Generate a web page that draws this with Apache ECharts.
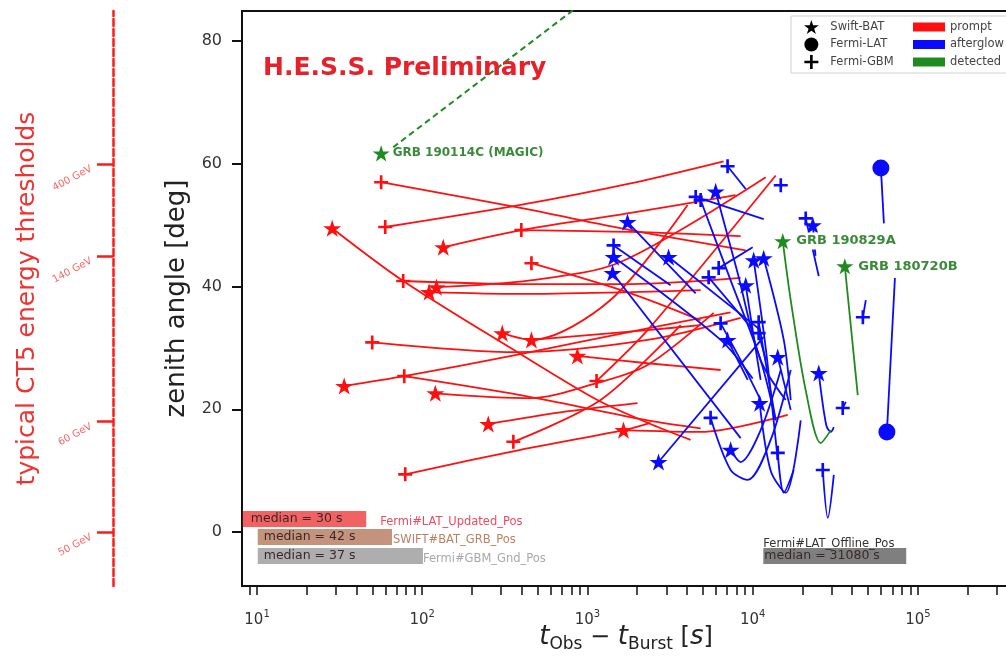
<!DOCTYPE html>
<html><head><meta charset="utf-8">
<script src="https://cdn.jsdelivr.net/npm/echarts@6/dist/echarts.min.js"></script>
<style>html,body{margin:0;padding:0;background:#fff}#c{width:1006px;height:657px}</style>
</head><body><div id="c"></div>
<script>
// ---------- data: each track = [[t_obs - t_burst (s), zenith (deg)], ...]; first point carries the detector marker
const promptGBM = [
  [[56.4,57.0],[393,52.8],[1823,49.2],[9077,45.9]],
  [[59.7,49.7],[393,53.3],[1823,56.8],[6668,60.4]],
  [[76.7,40.9],[393,40.4],[1823,40.4],[8453,41.4]],
  [[398,49.2],[1823,48.9],[8453,48.2]],
  [[458,43.8],[1823,38.9],[4842,34.5]],
  [[49.8,30.9],[377,29.3],[2311,31.3],[8453,34.9]],
  [[1135,24.6],[2311,32.9],[13780,58.1]],
  [[77.8,25.4],[393,22.3],[2311,18.2],[4842,16.9]],
  [[356,14.7],[1200,21.5],[3664,33.7]],
  [[78.9,9.4],[393,13.4],[1652,16.6],[2409,17.8]]
];
const promptBAT = [
  [[28.5,49.5],[76.7,40.9],[377,29.3],[1150,21.5],[2311,17.8],[4207,15.0]],
  [[110,39.1],[393,38.8],[1823,39.1],[4842,39.4]],
  [[122,39.9],[451,41.0],[1585,44.0],[11990,57.8]],
  [[134,46.4],[398,49.2],[1823,52.0],[7880,54.9]],
  [[305,32.4],[458,31.3],[1378,37.8],[4036,53.3]],
  [[458,31.3],[2311,32.9],[4842,33.7]],
  [[869,28.7],[2311,27.5],[6397,26.4]],
  [[33.7,23.8],[77.8,25.4],[393,29.0],[2311,33.2],[7355,35.8]],
  [[120,22.6],[451,21.8],[1150,24.3],[2311,27.2],[5803,35.7]],
  [[251,17.6],[686,19.5],[2009,21.0]],
  [[1652,16.6],[4842,16.3],[16300,19.1]]
];
const afterglowGBM = [
  [[7047,59.6],[9077,55.9]],
  [[14790,56.5]],
  [[4519,54.6],[11660,51.0]],
  [[4842,54.1],[7355,41.0],[11170,28.0],[13780,18.2]],
  [[1439,46.7],[3186,40.2]],
  [[6227,43.0],[10000,46.4]],
  [[5414,41.5],[10000,33.0]],
  [[20940,51.1],[25120,41.7]],
  [[6397,34.0],[8453,28.0],[11170,21.5]],
  [[10870,34.2],[13780,18.2]],
  [[10870,32.4],[12000,28.0]],
  [[35080,20.2],[36640,21.2]],
  [[5562,18.6],[7355,10.1],[9333,8.5],[12850,15.0],[16990,26.4]],
  [[14180,12.9],[15420,6.4],[17720,10.1]],
  [[26560,10.1],[28500,2.3],[30980,9.3]],
  [[46450,35.0],[48400,37.8]]
];
const afterglowBAT = [
  [[5970,55.5],[8110,42.2],[11170,28.0],[15850,21.5]],
  [[1747,50.5],[4519,38.9]],
  [[1439,44.8],[6397,31.3],[10000,25.0]],
  [[1419,42.2],[8453,15.3]],
  [[3097,44.8],[11170,32.9]],
  [[9077,40.2],[10000,32.9],[11170,24.8]],
  [[10140,44.3],[11990,30.0],[13780,15.0],[14180,11.7]],
  [[11660,44.6],[15420,31.3],[16990,21.5]],
  [[23120,50.0],[24000,45.0]],
  [[7047,31.3],[9333,24.8]],
  [[14180,28.5],[16990,19.9]],
  [[25120,25.9],[27890,17.4],[29720,16.3],[30980,17.1]],
  [[11020,21.0],[12850,10.0],[15850,6.4],[19530,18.2]],
  [[7355,13.4],[8453,11.4],[11170,16.6],[14790,26.4]],
  [[2692,11.4],[11660,31.8]]
];
const afterglowLAT = [
  [[59700,59.3],[62270,50.3]],
  [[64930,16.3],[72600,41.4]]
];
const detectedBAT = [
  [[15210,47.4],[16990,37.8],[20940,23.1],[25830,14.5],[29720,16.6]],
  [[36120,43.3],[43260,22.3]],
  [[56.4,61.7]]
];
const detectedNames = ['GRB 190829A','GRB 180720B','GRB 190114C (MAGIC)'];
const magicExtrapolation = [[66.7,62.7],[789,84.7],[1200,88.4]];

// median latency bars: [start s, end s, top deg, bottom deg]
const medianStart  = [8.2, 10.1, 10.1, 11600];
const medianEnd    = [45.8, 65.6, 101, 85000];
const medianTop    = [3.42, 0.49, -2.61, -2.61];
const medianBottom = [0.81, -2.12, -5.21, -5.21];
const medianText   = ['median = 30 s','median = 42 s','median = 37 s','median = 31080 s'];
const medianStream = ['Fermi#LAT_Updated_Pos','SWIFT#BAT_GRB_Pos','Fermi#GBM_Gnd_Pos','Fermi#LAT_Offline_Pos'];

// axes
const yMin = -8.8, yMax = 84.9;
const xMin = 8.11, xMax = 3.61e5;
const yTicks = [0,20,40,60,80];
const xTickValues = [10,100,1000,10000,100000];
const xTickExps = ['1','2','3','4','5'];
const xAllTicks = [8,9,10,20,30,40,50,60,70,80,90,100,200,300,400,500,600,700,800,900,1000,
  2000,3000,4000,5000,6000,7000,8000,9000,10000,20000,30000,40000,50000,60000,70000,80000,90000,
  100000,200000,300000];
const energyTickDeg = [60,45,18,0];
const energyTickLabels = ['400 GeV','140 GeV','60 GeV','50 GeV'];

// ---------- styles
const STAR = 'path://M0,-100L22.45,-30.9L95.11,-30.9L36.33,11.8L58.78,80.9L0,38.2L-58.78,80.9L-36.33,11.8L-95.11,-30.9L-22.45,-30.9Z';
const PLUS = 'path://M-1.9,-10L1.9,-10L1.9,-1.9L10,-1.9L10,1.9L1.9,1.9L1.9,10L-1.9,10L-1.9,1.9L-10,1.9L-10,-1.9L-1.9,-1.9Z';
const RED = '#ff1010', BLUE = '#0a0aff', GREEN = '#1f8a1f';
const FONT = 'DejaVu Sans';
const barFill = ['rgba(238,70,70,0.85)','rgba(190,135,110,0.9)','rgba(170,170,170,0.95)','rgba(120,120,120,0.95)'];
const streamColor = ['#ea4a64','#b98266','#a8a8a8','#333333'];
const insetX = [8,6,6,1];
const streamGap = [14,1,0,0];

const series = [];
function addTracks(tracks, color, name){
  tracks.forEach(tr => {
    if (tr.length > 1) series.push({type:'line', name, data:tr, symbol:'none', smooth:0.3, silent:true,
      lineStyle:{color, width:1.8}, itemStyle:{color}, z:2});
  });
}
function addMarkers(tracks, color, name, symbol, size){
  series.push({type:'scatter', name, data:tracks.map(tr => tr[0]), symbol, symbolSize:size,
    symbolKeepAspect:true, itemStyle:{color, opacity:1}, z:4, silent:true});
}
addTracks(promptGBM, RED, 'prompt');
addTracks(promptBAT, RED, 'prompt');
addTracks(afterglowGBM, BLUE, 'afterglow');
addTracks(afterglowBAT, BLUE, 'afterglow');
addTracks(afterglowLAT, BLUE, 'afterglow');
addTracks(detectedBAT, GREEN, 'detected');
series.push({type:'line', name:'detected', data:magicExtrapolation, symbol:'none', silent:true,
  lineStyle:{color:GREEN, width:2, type:[6,4]}, z:2});
addMarkers(promptGBM, RED, 'Fermi-GBM', PLUS, 14);
addMarkers(promptBAT, RED, 'Swift-BAT', STAR, 18);
addMarkers(afterglowGBM, BLUE, 'Fermi-GBM', PLUS, 14);
addMarkers(afterglowBAT, BLUE, 'Swift-BAT', STAR, 18);
addMarkers(afterglowLAT, BLUE, 'Fermi-LAT', 'circle', 17);
series.push({type:'scatter', name:'Swift-BAT', symbol:STAR, symbolSize:17, symbolKeepAspect:true,
  itemStyle:{color:GREEN, opacity:1}, z:5, silent:true,
  data: detectedBAT.map((tr,i) => ({value:tr[0], label:{show:true, position:'right', distance:3,
    formatter:detectedNames[i], color:'#3a8a3a', fontWeight:'bold', fontFamily:FONT,
    fontSize: i < 2 ? 13 : 12,
    backgroundColor: i < 2 ? '#fff' : 'transparent', padding: i < 2 ? [2,2,2,2] : 0}}))
});
series.push({type:'custom', coordinateSystem:'cartesian2d', clip:false, silent:true, z:6,
  data: medianStart.map((s,i) => [s, medianEnd[i], medianTop[i], medianBottom[i]]),
  renderItem: (params, api) => {
    const i = params.dataIndex;
    const p0 = api.coord([api.value(0), api.value(2)]);
    const p1 = api.coord([api.value(1), api.value(3)]);
    const mid = (p0[1] + p1[1]) / 2;
    const kids = [
      {type:'rect', shape:{x:p0[0], y:p0[1], width:p1[0]-p0[0], height:p1[1]-p0[1]}, style:{fill:barFill[i]}},
      {type:'text', style:{x:p0[0]+insetX[i], y:mid, text:medianText[i], fill:'#3a2a2a', font:'12.5px "DejaVu Sans"', verticalAlign:'middle'}}
    ];
    if (i < 3) kids.push({type:'text', style:{x:p1[0]+streamGap[i], y:mid+3, text:medianStream[i], fill:streamColor[i], font:'11.5px "DejaVu Sans"', verticalAlign:'middle'}});
    else kids.push({type:'text', style:{x:p0[0], y:p0[1]+2, text:medianStream[i], fill:streamColor[i], font:'11.5px "DejaVu Sans"', verticalAlign:'bottom'}});
    return {type:'group', children:kids};
  }
});

const legendText = {fontSize:11.5, color:'#444', fontFamily:FONT, lineHeight:14};
const option = {
  animation:false,
  backgroundColor:'#fff',
  textStyle:{fontFamily:FONT},
  title:{text:'H.E.S.S. Preliminary', left:258, top:51,
    textStyle:{color:'#e8202a', fontSize:25, fontWeight:'bold', fontFamily:FONT}},
  legend:[
    {left:791, top:16, orient:'vertical', itemGap:3.5, itemWidth:28, itemHeight:14,
      padding:[4,300,4,13], backgroundColor:'#fff', borderColor:'#d0d0d0', borderWidth:1,
      textStyle:legendText, selectedMode:false, z:10,
      data:[
        {name:'Swift-BAT', itemStyle:{color:'#000'}},
        {name:'Fermi-LAT', itemStyle:{color:'#000'}},
        {name:'Fermi-GBM', itemStyle:{color:'#000'}}
      ]},
    {left:913, top:16, orient:'vertical', itemGap:3.5, itemWidth:32, itemHeight:9,
      padding:[4,0,4,0], textStyle:legendText, selectedMode:false, z:11,
      data:[
        {name:'prompt', icon:'rect', itemStyle:{color:RED}},
        {name:'afterglow', icon:'rect', itemStyle:{color:BLUE}},
        {name:'detected', icon:'rect', itemStyle:{color:GREEN}}
      ]}
  ],
  grid:{left:242, top:11, right:-4, bottom:71, show:true, borderColor:'#111', borderWidth:2,
    containLabel:false, outerBoundsMode:'none'},
  xAxis:{type:'log', logBase:10, min:xMin, max:xMax,
    axisLine:{show:true, onZero:false, lineStyle:{color:'#111', width:2}},
    axisTick:{show:true, customValues:xAllTicks, length:9, lineStyle:{color:'#111', width:1.5}},
    axisLabel:{customValues:xTickValues, margin:23, color:'#333', fontSize:15,
      formatter: v => '{m|10}{sup|' + xTickExps[Math.round(Math.log10(v)) - 1] + '}',
      rich:{m:{fontSize:15, verticalAlign:'top', padding:[4,0,0,0], color:'#333'},
            sup:{fontSize:10, verticalAlign:'top', color:'#333'}}},
    splitLine:{show:false}, minorTick:{show:false},
    name:'{i|t}{s|Obs}{n| − }{i|t}{s|Burst}{n| [}{i|s}{n|]}', nameLocation:'middle', nameGap:38,
    nameMoveOverlap:false,
    nameTextStyle:{rich:{
      i:{fontSize:26, fontStyle:'italic', verticalAlign:'bottom', padding:[0,0,3,0], color:'#222'},
      n:{fontSize:24, verticalAlign:'bottom', padding:[0,0,3,0], color:'#222'},
      s:{fontSize:17, verticalAlign:'bottom', color:'#222'}}}
  },
  yAxis:[
    {type:'value', min:yMin, max:yMax,
      axisLine:{show:true, onZero:false, lineStyle:{color:'#111', width:2}},
      axisTick:{show:true, customValues:yTicks, length:10, lineStyle:{color:'#111', width:2}},
      axisLabel:{customValues:yTicks, margin:20, color:'#333', fontSize:16},
      splitLine:{show:false},
      name:'zenith angle [deg]', nameLocation:'middle', nameGap:27, nameRotate:90,
      nameTextStyle:{fontSize:26, color:'#222'}},
    {type:'value', min:yMin, max:yMax, position:'left', offset:129,
      axisLine:{show:true, onZero:false, lineStyle:{color:'#ff1a1a', width:2.5, type:[7,3]}},
      axisTick:{show:true, customValues:energyTickDeg, length:16, lineStyle:{color:'#ff1a1a', width:2.5, type:'solid'}},
      axisLabel:{customValues:energyTickDeg, rotate:28, margin:24, color:'#f06a6a', fontSize:10,
        verticalAlign:'top', formatter: v => energyTickLabels[energyTickDeg.indexOf(v)]},
      splitLine:{show:false},
      name:'typical CT5 energy thresholds', nameLocation:'middle', nameGap:72, nameRotate:90,
      nameTextStyle:{fontSize:25, color:'#ee3333'}}
  ],
  series
};
const chart = echarts.init(document.getElementById('c'), null, {renderer:'canvas'});
chart.setOption(option);
</script></body></html>
